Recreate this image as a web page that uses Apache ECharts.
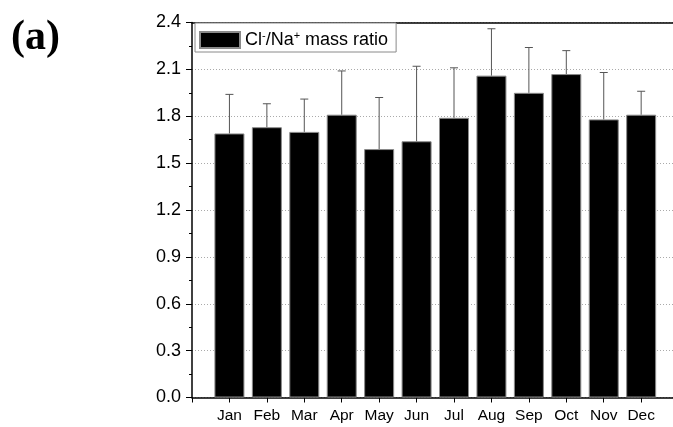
<!DOCTYPE html>
<html>
<head>
<meta charset="utf-8">
<script src="https://cdn.jsdelivr.net/npm/echarts@6/dist/echarts.min.js"></script>
<style>
  html, body { margin: 0; padding: 0; background: #fff; }
  #chart { width: 673px; height: 427px; }
</style>
</head>
<body>
<div id="chart"></div>
<script>
// Monthly Cl-/Na+ mass ratio: mean (bar) and mean + SD (error bar top)
const months = ['Jan', 'Feb', 'Mar', 'Apr', 'May', 'Jun', 'Jul', 'Aug', 'Sep', 'Oct', 'Nov', 'Dec'];
const ratio = [1.69, 1.73, 1.70, 1.81, 1.59, 1.64, 1.79, 2.06, 1.95, 2.07, 1.78, 1.81];
const errorTop = [1.94, 1.88, 1.91, 2.09, 1.92, 2.12, 2.11, 2.36, 2.24, 2.22, 2.08, 1.96];

const FONT = '"Liberation Sans", Arial, sans-serif';

// Months sit at x = 1..12 on a 0..13 value axis
const barData = months.map((m, i) => [i + 1, ratio[i]]);
const errData = months.map((m, i) => [i + 1, ratio[i], errorTop[i]]);

const chart = echarts.init(document.getElementById('chart'), null, { renderer: 'canvas' });

chart.setOption({
  animation: false,
  backgroundColor: '#fff',
  // the plot frame runs past the right edge of the canvas
  grid: { left: 192, top: 22.5, width: 486.6, height: 375, outerBoundsMode: 'none', containLabel: false },
  graphic: [{
    type: 'text',
    left: 11,
    top: 17,
    style: { text: '(a)', font: 'bold 42px "Liberation Serif", "Times New Roman", serif', fill: '#000' }
  }],
  legend: {
    left: 195,
    top: 23,
    orient: 'horizontal',
    backgroundColor: '#fff',
    borderColor: '#8a8a8a',
    borderWidth: 1,
    borderRadius: 0,
    padding: [7, 8, 3, 4],
    itemWidth: 40,
    itemHeight: 16,
    itemGap: 4,
    data: [{ name: 'ratio', icon: 'rect' }],
    formatter: () => '{t|Cl}{s|-}{t|/Na}{s|+}{t| mass ratio}',
    textStyle: {
      rich: {
        t: { fontSize: 18, fontFamily: FONT, color: '#000', lineHeight: 20 },
        s: { fontSize: 11, fontFamily: FONT, color: '#000', lineHeight: 10, verticalAlign: 'top' }
      }
    }
  },
  xAxis: [{
    type: 'value',
    min: 0,
    max: 13,
    interval: 1,
    axisLine: { show: true, onZero: false, lineStyle: { color: '#000', width: 1.5 } },
    axisTick: { show: true, inside: false, length: 5, lineStyle: { color: '#000', width: 1 } },
    axisLabel: {
      margin: 10,
      fontSize: 15.5,
      fontFamily: FONT,
      color: '#000',
      formatter: v => (v >= 1 && v <= 12 ? months[v - 1] : '')
    },
    splitLine: { show: false }
  }, {
    type: 'value',
    position: 'top',
    min: 0,
    max: 13,
    axisLine: { show: true, onZero: false, lineStyle: { color: '#000', width: 1.5 } },
    axisTick: { show: false },
    axisLabel: { show: false },
    splitLine: { show: false }
  }],
  yAxis: {
    type: 'value',
    min: 0,
    max: 2.4,
    interval: 0.3,
    axisLine: { show: true, onZero: false, lineStyle: { color: '#000', width: 1.5 } },
    axisTick: { show: true, inside: false, length: 6, lineStyle: { color: '#000', width: 1 } },
    minorTick: { show: true, splitNumber: 2, length: 3, lineStyle: { color: '#000', width: 1 } },
    axisLabel: {
      margin: 11,
      fontSize: 18,
      fontFamily: FONT,
      color: '#000',
      formatter: v => v.toFixed(1)
    },
    splitLine: { show: true, lineStyle: { color: '#aaa', type: [1, 2], width: 1 } }
  },
  series: [{
    name: 'ratio',
    type: 'bar',
    xAxisIndex: 0,
    barWidth: 30,
    data: barData,
    itemStyle: { color: '#000', borderColor: '#8a8a8a', borderWidth: 1 },
    z: 2
  }, {
    name: 'errors',
    type: 'custom',
    xAxisIndex: 0,
    data: errData,
    z: 3,
    renderItem: (params, api) => {
      const x = api.value(0);
      const base = api.coord([x, api.value(1)]);
      const top = api.coord([x, api.value(2)]);
      const half = 4;
      const style = { stroke: '#555', lineWidth: 1 };
      return {
        type: 'group',
        children: [
          { type: 'line', shape: { x1: base[0], y1: base[1], x2: top[0], y2: top[1] }, style },
          { type: 'line', shape: { x1: top[0] - half, y1: top[1], x2: top[0] + half, y2: top[1] }, style }
        ]
      };
    }
  }]
});
</script>
</body>
</html>
